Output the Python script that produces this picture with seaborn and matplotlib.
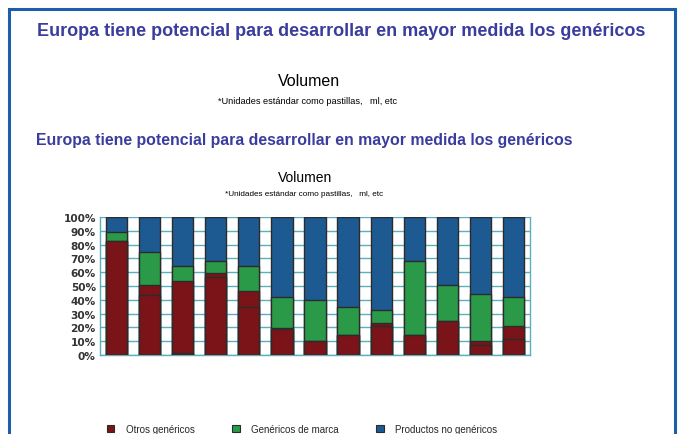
import matplotlib
matplotlib.use("Agg")
import matplotlib.pyplot as plt
import seaborn as sns
import numpy as np
import pandas as pd
from matplotlib.patches import Rectangle, Patch
from matplotlib.ticker import FixedLocator, PercentFormatter

sns.set_theme(style="white")
plt.rcParams['font.family'] = ['Liberation Sans', 'DejaVu Sans']

# ---- data (percent of volume) ----
paises = [f"P{i}" for i in range(1, 14)]
otros_genericos_1 = [82.4, 43.2, 1.2, 56.5, 35.0, 18.8, 10.4, 14.5, 20.8, 14.7, 24.4, 7.5, 11.8]
otros_genericos_2 = [0.0, 7.8, 52.2, 3.1, 11.6, 0.8, 0.0, 0.0, 2.2, 0.0, 0.0, 2.9, 9.0]
genericos_marca = [6.6, 23.9, 11.1, 8.7, 18.1, 22.7, 29.6, 20.5, 9.8, 53.4, 26.3, 33.6, 21.0]
productos_no_genericos = [11.0, 25.1, 35.5, 31.7, 35.3, 57.7, 60.0, 65.0, 67.2, 31.9, 49.3, 56.0, 58.2]
ytick_vals = list(range(0, 101, 10))

titulo = "Europa tiene potencial para desarrollar en mayor medida los genéricos"
subtitulo = "Volumen"
nota = "*Unidades estándar como pastillas,   ml, etc"
series_names = ["Otros genéricos", "Genéricos de marca", "Productos no genéricos"]

RED = "#7a1419"
GREEN = "#2a9a48"
BLUE = "#1e5a92"
TITLE_C = "#3a3d9e"
TEAL = "#5bb0bd"

df = pd.DataFrame({
    "pais": paises,
    "o1": otros_genericos_1,
    "o2": otros_genericos_2,
    "gm": genericos_marca,
    "png": productos_no_genericos,
})
df["c_o1"] = df["o1"]
df["c_o2"] = df["c_o1"] + df["o2"]
df["c_gm"] = df["c_o2"] + df["gm"]
df["c_png"] = df["c_gm"] + df["png"]

W, H = 680, 435
fig = plt.figure(figsize=(W / 100, H / 100), dpi=100)

# outer frame
fig.patches.append(Rectangle((9 / W, -0.05), (675 - 9) / W, 1.05 - 10 / H,
                             transform=fig.transFigure, fill=False,
                             edgecolor="#1a5fa8", linewidth=2.2))

# texts
fig.text(341 / W, 1 - 31 / H, titulo, ha="center", va="center",
         color=TITLE_C, fontsize=12.95, fontweight="bold")
fig.text(309 / W, 1 - 81 / H, subtitulo, ha="center", va="center",
         color="black", fontsize=11.5)
fig.text(308 / W, 1 - 102 / H, nota, ha="center", va="center",
         color="black", fontsize=6.6)
fig.text(304.5 / W, 1 - 141 / H, titulo, ha="center", va="center",
         color=TITLE_C, fontsize=11.45, fontweight="bold")
fig.text(305 / W, 1 - 178 / H, subtitulo, ha="center", va="center",
         color="black", fontsize=10)
fig.text(304.5 / W, 1 - 195 / H, nota, ha="center", va="center",
         color="black", fontsize=5.9)

ax = fig.add_axes([100 / W, 1 - 356 / H, 430 / W, 138 / H])

kw = dict(width=0.64, edgecolor="#2b2b2b", linewidth=1.0, ax=ax, order=paises,
          zorder=3)
sns.barplot(data=df, x="pais", y="c_png", color=BLUE, saturation=1, **kw)
sns.barplot(data=df, x="pais", y="c_gm", color=GREEN, saturation=1, **kw)
sns.barplot(data=df, x="pais", y="c_o2", color=RED, saturation=1, **kw)
sns.barplot(data=df, x="pais", y="c_o1", color=RED, saturation=1, **kw)

ax.set_xlim(-0.5, len(paises) - 0.5)
ax.set_ylim(0, 100)
ax.set_xlabel("")
ax.set_ylabel("")
ax.set_yticks(ytick_vals)
ax.yaxis.set_major_formatter(PercentFormatter(decimals=0))
ax.yaxis.grid(True, color=TEAL, linewidth=1.0, zorder=0)
ax.set_axisbelow(True)
ax.tick_params(axis="y", length=0, pad=3, labelsize=7.6, labelcolor="#333333")
for lab in ax.get_yticklabels():
    lab.set_fontweight("bold")
    lab.set_family("DejaVu Sans")
ax.set_xticks([])
ax.xaxis.set_minor_locator(FixedLocator(np.arange(-0.5, len(paises), 1.0)))
ax.tick_params(axis="x", which="minor", length=4, width=1.0, color=TEAL)
for s in ["left", "right", "bottom", "top"]:
    ax.spines[s].set_color(TEAL)
    ax.spines[s].set_linewidth(1.0)
ax.spines["top"].set_visible(False)

handles = [Patch(facecolor=c, edgecolor="#2b2b2b", linewidth=0.8)
           for c in (RED, GREEN, BLUE)]
fig.legend(handles, series_names, loc="center", bbox_to_anchor=(302 / W, 1 - 430 / H),
           ncol=3, frameon=False, fontsize=7, handlelength=0.8, handleheight=0.8,
           columnspacing=3.8, handletextpad=1.2, borderpad=0)

fig.savefig("out.png", dpi=100)
